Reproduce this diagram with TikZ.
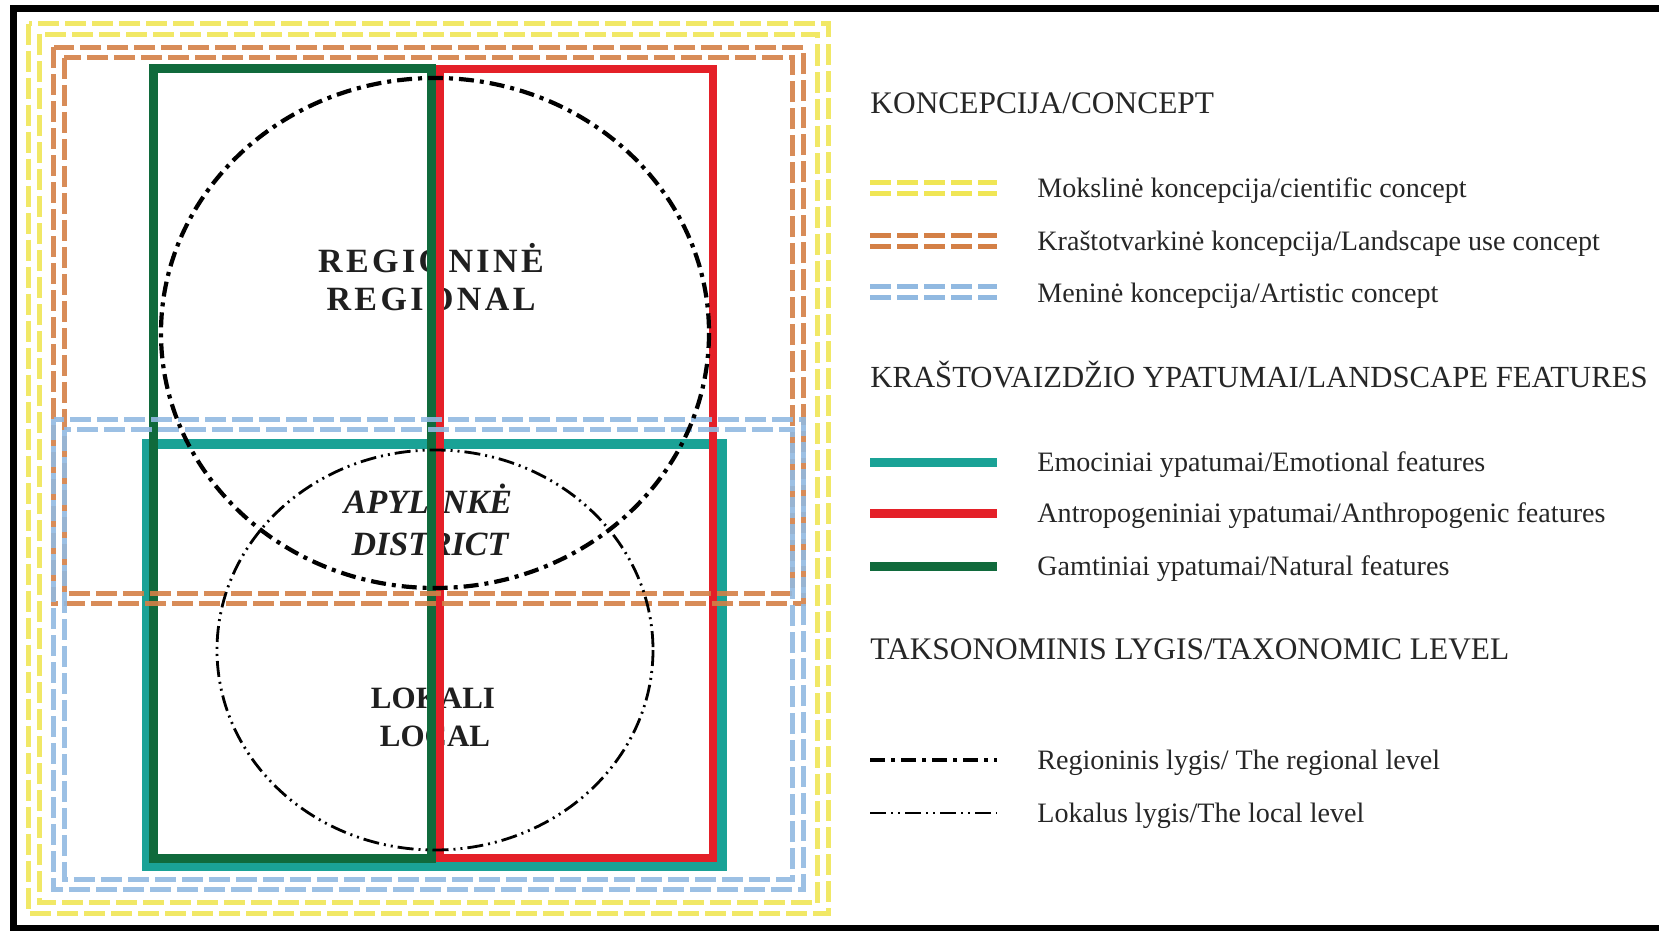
\documentclass[tikz,border=0pt]{standalone}
\usepackage{fontspec}
\setmainfont{Liberation Serif}
\newfontfamily\spacedfont[LetterSpace=10]{Liberation Serif}
\usetikzlibrary{positioning}

\definecolor{sciyellow}{RGB}{240,230,85}
\definecolor{useorange}{RGB}{212,128,70}
\definecolor{artblue}{RGB}{145,185,225}
\definecolor{emoteal}{RGB}{26,162,150}
\definecolor{antred}{RGB}{228,32,40}
\definecolor{natgreen}{RGB}{16,106,60}

% double dashed frame: colour, x1, y1, x2, y2 (middle of the pair)
\newcommand{\conceptrect}[5]{%
  \draw[concept, #1, opacity=0.9] (#2-5.3,#3-5.3) rectangle (#4+5.3,#5+5.3);
  \draw[concept, #1, opacity=0.9] (#2+5.3,#3+5.3) rectangle (#4-5.3,#5-5.3);
}
% double dashed legend sample
\newcommand{\conceptsample}[2]{%
  \draw[concept, #1] (870,#2-5.3) -- (997,#2-5.3);
  \draw[concept, #1] (870,#2+5.3) -- (997,#2+5.3);
}

\begin{document}
\begin{tikzpicture}[
    x=0.5pt, y=-0.5pt,
    concept/.style={line width=2.4pt, dash pattern=on 10.5pt off 3pt},
    feature/.style={line width=4.5pt},
    regline/.style={line width=2.1pt, dash pattern=on 7.5pt off 3pt on 2pt off 3pt},
    locline/.style={line width=1.4pt, dash pattern=on 8pt off 2.5pt on 1pt off 2.5pt on 1pt off 2.5pt},
    heading/.style={anchor=base west, inner sep=0pt, text=black!85, font=\fontsize{15.7}{18}\selectfont},
    legtext/.style={anchor=base west, inner sep=0pt, text=black!85, font=\fontsize{14.05}{17}\selectfont},
    level/.style={anchor=base, inner sep=0pt, text=black!88, font=\bfseries\fontsize{15.5}{18}\selectfont},
]
\useasboundingbox (0,0) rectangle (1659,931);
\clip (0,0) rectangle (1659,931);

% Level names
\node[level, font=\spacedfont\bfseries\fontsize{17}{20}\selectfont] (regionallt) at (431,272) {REGIONINĖ};
\node[level, font=\spacedfont\bfseries\fontsize{17}{20}\selectfont] (regionalen) at (431,310) {REGIONAL};
\node[level, font=\bfseries\itshape\fontsize{17}{20}\selectfont] (districtlt) at (428,513) {APYLINKĖ};
\node[level, font=\bfseries\itshape\fontsize{17}{20}\selectfont] (districten) at (430,555) {DISTRICT};
\node[level] (locallt) at (433,708) {LOKALI};
\node[level] (localen) at (435,746) {LOCAL};

% Landscape features
\draw[feature, emoteal, line width=5pt] (147,444) rectangle (722,866);
\draw[feature, natgreen] (153,69) rectangle (431,858);
\draw[feature, antred, line width=4pt] (440,69) rectangle (713,858);

% Concepts
\conceptrect{sciyellow}{34}{29}{823}{908}
\conceptrect{useorange}{59}{52.5}{798}{598.5}
\conceptrect{artblue}{59}{424.5}{798}{884.5}

% Taxonomic levels
\draw[regline] (435,333) ellipse [x radius=274, y radius=255];
\draw[locline] (435,650) ellipse [x radius=218, y radius=200];

% Legend
\node[heading] (hconcept) at (870,113) {KONCEPCIJA/CONCEPT};
\conceptsample{sciyellow}{188}
\conceptsample{useorange}{241}
\conceptsample{artblue}{292}
\node[legtext] (tscience) at (1037,197) {Mokslinė koncepcija/cientific concept};
\node[legtext] (tuse) at (1037,250) {Kraštotvarkinė koncepcija/Landscape use concept};
\node[legtext] (tart) at (1037,302) {Meninė koncepcija/Artistic concept};

\node[heading, font=\fontsize{15.35}{18}\selectfont] (hfeatures) at (870,387) {KRAŠTOVAIZDŽIO YPATUMAI/LANDSCAPE FEATURES};
\draw[feature, emoteal] (870,462) -- (997,462);
\draw[feature, antred] (870,513) -- (997,513);
\draw[feature, natgreen] (870,566) -- (997,566);
\node[legtext] (temo) at (1037,471) {Emociniai ypatumai/Emotional features};
\node[legtext] (tant) at (1037,522) {Antropogeniniai ypatumai/Anthropogenic features};
\node[legtext] (tnat) at (1037,575) {Gamtiniai ypatumai/Natural features};

\node[heading] (hlevel) at (870,659) {TAKSONOMINIS LYGIS/TAXONOMIC LEVEL};
\draw[regline] (870,760) -- (997,760);
\draw[locline] (870,813) -- (997,813);
\node[legtext] (treg) at (1037,769) {Regioninis lygis/ The regional level};
\node[legtext] (tloc) at (1037,822) {Lokalus lygis/The local level};

% Frame
\draw[line width=3.5pt] (13.5,8.5) rectangle (1672,928);
\end{tikzpicture}
\end{document}
